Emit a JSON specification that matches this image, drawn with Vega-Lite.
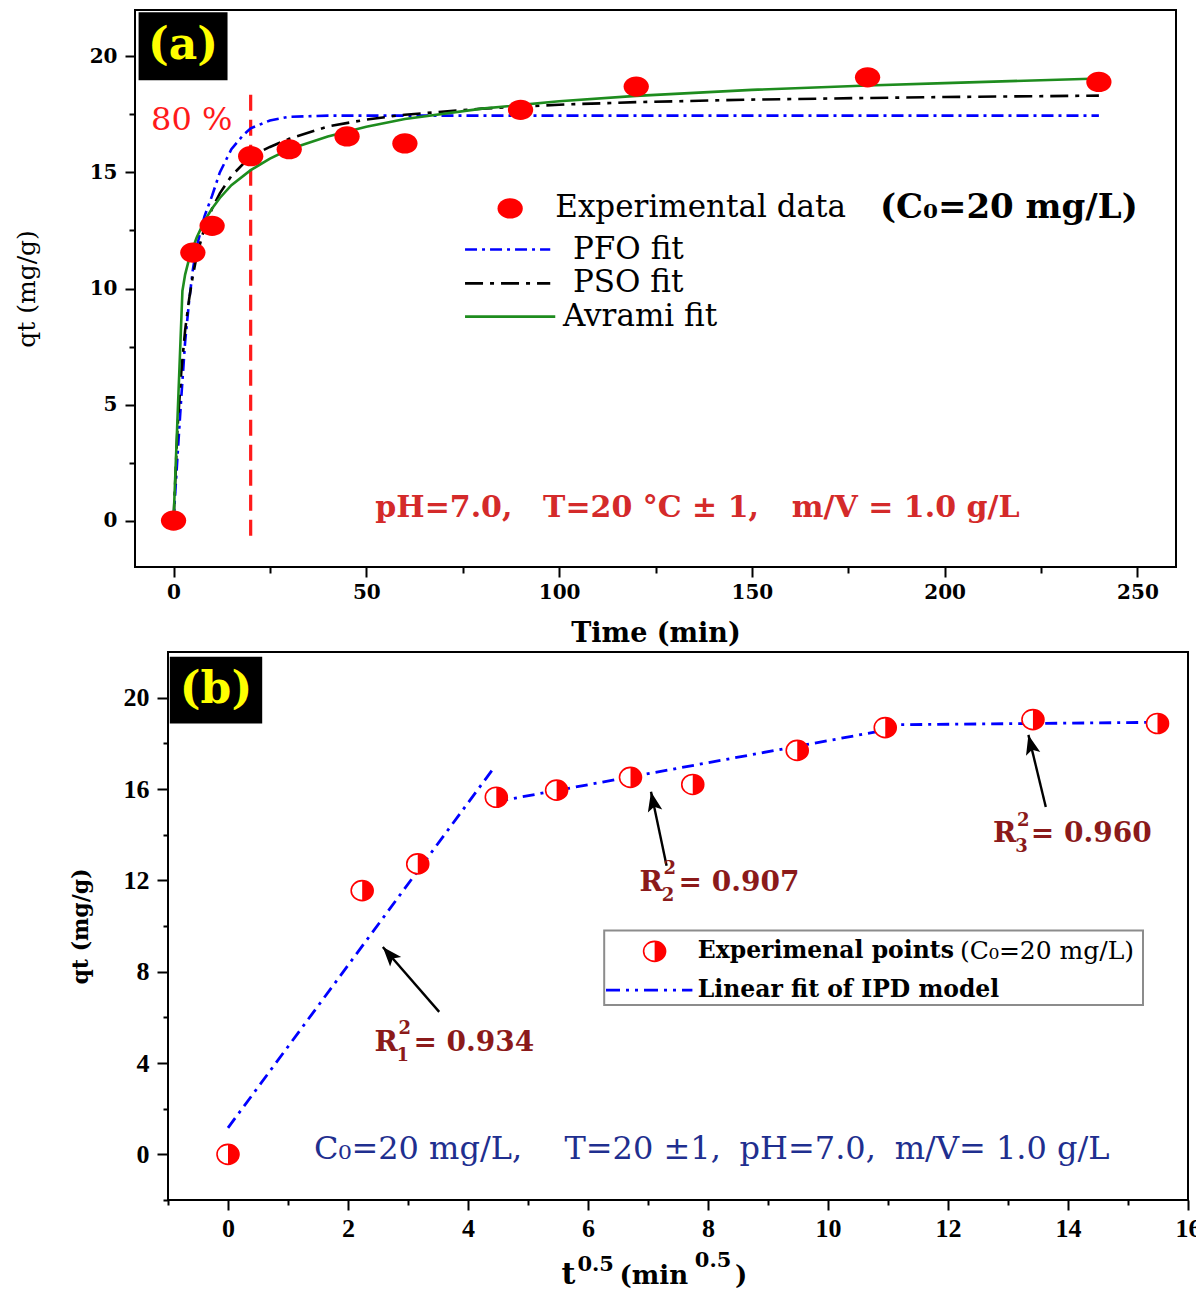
{
  "$schema": "https://vega.github.io/schema/vega-lite/v6.json",
  "autosize": {"type": "pad"},
  "padding": {"left": 14, "top": 9, "right": 0, "bottom": 0},
  "spacing": 5,
  "config": {
    "view": {"stroke": null},
    "font": "DejaVu Serif",
    "axis": {"grid": false, "domain": false, "tickColor": "black", "tickWidth": 2, "labelColor": "black", "titleColor": "black", "labelFlush": false, "labelOverlap": false}
  },
  "datasets": {
    "expA": [{"t":0,"q":0},{"t":5,"q":11.55},{"t":10,"q":12.7},{"t":20,"q":15.7},{"t":30,"q":16.0},{"t":45,"q":16.55},{"t":60,"q":16.25},{"t":90,"q":17.7},{"t":120,"q":18.7},{"t":180,"q":19.1},{"t":240,"q":18.9}],
    "fits": [
      {"model":"PFO","t":0,"q":0},{"model":"PFO","t":1,"q":2.7},{"model":"PFO","t":2,"q":5.3},{"model":"PFO","t":3,"q":7.7},{"model":"PFO","t":4,"q":9.4},{"model":"PFO","t":5,"q":10.8},{"model":"PFO","t":6,"q":11.8},{"model":"PFO","t":8,"q":13.1},{"model":"PFO","t":10,"q":14.0},{"model":"PFO","t":12,"q":15.0},{"model":"PFO","t":15,"q":16.0},{"model":"PFO","t":18,"q":16.6},{"model":"PFO","t":20,"q":16.9},{"model":"PFO","t":25,"q":17.24},{"model":"PFO","t":30,"q":17.4},{"model":"PFO","t":40,"q":17.45},{"model":"PFO","t":60,"q":17.45},{"model":"PFO","t":120,"q":17.45},{"model":"PFO","t":180,"q":17.45},{"model":"PFO","t":240,"q":17.45},
      {"model":"PSO","t":0,"q":0},{"model":"PSO","t":1,"q":3.9},{"model":"PSO","t":2,"q":6.4},{"model":"PSO","t":3,"q":8.2},{"model":"PSO","t":4,"q":9.5},{"model":"PSO","t":5,"q":10.55},{"model":"PSO","t":6,"q":11.4},{"model":"PSO","t":8,"q":12.6},{"model":"PSO","t":10,"q":13.45},{"model":"PSO","t":12,"q":14.1},{"model":"PSO","t":15,"q":14.85},{"model":"PSO","t":20,"q":15.7},{"model":"PSO","t":25,"q":16.1},{"model":"PSO","t":30,"q":16.45},{"model":"PSO","t":40,"q":16.98},{"model":"PSO","t":50,"q":17.28},{"model":"PSO","t":60,"q":17.49},{"model":"PSO","t":80,"q":17.75},{"model":"PSO","t":100,"q":17.92},{"model":"PSO","t":120,"q":18.03},{"model":"PSO","t":150,"q":18.14},{"model":"PSO","t":180,"q":18.21},{"model":"PSO","t":200,"q":18.25},{"model":"PSO","t":240,"q":18.31},
      {"model":"Avrami","t":0,"q":0},{"model":"Avrami","t":2.3,"q":9.9},{"model":"Avrami","t":3,"q":10.6},{"model":"Avrami","t":4,"q":11.25},{"model":"Avrami","t":5,"q":11.75},{"model":"Avrami","t":6,"q":12.2},{"model":"Avrami","t":8,"q":12.9},{"model":"Avrami","t":10,"q":13.45},{"model":"Avrami","t":12,"q":13.9},{"model":"Avrami","t":15,"q":14.45},{"model":"Avrami","t":20,"q":15.1},{"model":"Avrami","t":25,"q":15.6},{"model":"Avrami","t":30,"q":16.0},{"model":"Avrami","t":40,"q":16.55},{"model":"Avrami","t":50,"q":16.97},{"model":"Avrami","t":60,"q":17.3},{"model":"Avrami","t":80,"q":17.75},{"model":"Avrami","t":100,"q":18.07},{"model":"Avrami","t":120,"q":18.3},{"model":"Avrami","t":150,"q":18.56},{"model":"Avrami","t":180,"q":18.75},{"model":"Avrami","t":200,"q":18.85},{"model":"Avrami","t":240,"q":19.05}
    ],
    "legLinesA": [
      {"model":"PFO","t":75.6,"q":11.68},{"model":"PFO","t":97.7,"q":11.68},
      {"model":"PSO","t":75.6,"q":10.22},{"model":"PSO","t":97.7,"q":10.22},
      {"model":"Avrami","t":75.6,"q":8.79},{"model":"Avrami","t":99.0,"q":8.79}
    ],
    "legPtA": [{"t":87.3,"q":13.45}],
    "vline": [{"t":20,"q1":-0.65,"q2":18.6}],
    "boxA": [{"x":-9.07,"x2":14.0,"y":21.9,"y2":18.97}],
    "frameA": [{"x":-10,"x2":260,"y":-2,"y2":22}],
    "txtA": [
      {"k":"tag","x":2.47,"y":20.43,"text":"(a)"},
      {"k":"pct","x":4.7,"y":17.24,"text":"80 %"},
      {"k":"leg","x":99.0,"y":13.45,"text":"Experimental data"},
      {"k":"legb","x":183.2,"y":13.45,"text":"(C₀=20 mg/L)"},
      {"k":"leg","x":103.6,"y":11.68,"text":"PFO fit"},
      {"k":"leg","x":103.6,"y":10.22,"text":"PSO fit"},
      {"k":"leg","x":101.0,"y":8.79,"text":"Avrami fit"},
      {"k":"cond","x":52.33,"y":0.56,"text":"pH=7.0,"},
      {"k":"cond","x":95.85,"y":0.56,"text":"T=20 °C ± 1,"},
      {"k":"cond","x":160.36,"y":0.56,"text":"m/V = 1.0 g/L"}
    ],
    "expB": [{"s":0,"q":0},{"s":2.236,"q":11.55},{"s":3.162,"q":12.72},{"s":4.472,"q":15.64},{"s":5.477,"q":15.95},{"s":6.708,"q":16.51},{"s":7.746,"q":16.2},{"s":9.487,"q":17.69},{"s":10.954,"q":18.69},{"s":13.416,"q":19.04},{"s":15.492,"q":18.87}],
    "ipd": [{"seg":1,"s":0,"q":1.16},{"seg":1,"s":4.41,"q":16.85},{"seg":2,"s":4.47,"q":15.45},{"seg":2,"s":10.9,"q":18.55},{"seg":3,"s":10.92,"q":18.81},{"seg":3,"s":15.45,"q":18.92}],
    "legLineB": [{"s":6.30,"q":7.19},{"s":7.74,"q":7.19}],
    "legPtB": [{"s":7.11,"q":8.89}],
    "arrows": [{"id":1,"s":3.52,"q":6.24,"s2":2.58,"q2":9.08},{"id":2,"s":7.31,"q":12.64,"s2":7.05,"q2":15.88},{"id":3,"s":13.63,"q":15.21,"s2":13.34,"q2":18.37}],
    "boxB": [{"k":"tag","x":-0.97,"x2":0.57,"y":21.79,"y2":18.87}],
    "legBoxB": [{"x":6.27,"x2":15.25,"y":9.8,"y2":6.54}],
    "frameB": [{"x":-1,"x2":16,"y":-2,"y2":22}],
    "txtB": [
      {"k":"tag","x":-0.2,"y":20.33,"text":"(b)"},
      {"k":"r","x":2.44,"y":4.88,"text":"R"},{"k":"r","x":3.09,"y":4.88,"text":"= 0.934"},
      {"k":"rs","x":2.81,"y":4.3,"text":"1"},{"k":"rs","x":2.84,"y":5.5,"text":"2"},
      {"k":"r","x":6.86,"y":11.9,"text":"R"},{"k":"r","x":7.51,"y":11.9,"text":"= 0.907"},
      {"k":"rs","x":7.23,"y":11.33,"text":"2"},{"k":"rs","x":7.26,"y":12.5,"text":"2"},
      {"k":"r","x":12.75,"y":14.03,"text":"R"},{"k":"r","x":13.38,"y":14.03,"text":"= 0.960"},
      {"k":"rs","x":13.12,"y":13.46,"text":"3"},{"k":"rs","x":13.15,"y":14.6,"text":"2"},
      {"k":"lgb","x":7.83,"y":8.89,"text":"Experimenal points"},
      {"k":"lgr","x":12.2,"y":8.89,"text":"(C₀=20 mg/L)"},
      {"k":"lgb","x":7.83,"y":7.19,"text":"Linear fit of IPD model"},
      {"k":"cond","x":1.435,"y":0.22,"text":"C₀=20 mg/L,"},
      {"k":"cond","x":5.607,"y":0.22,"text":"T=20 ±1,"},
      {"k":"cond","x":8.527,"y":0.22,"text":"pH=7.0,"},
      {"k":"cond","x":11.113,"y":0.22,"text":"m/V= 1.0 g/L"},
      {"k":"xt","x":5.557,"y":-5.68,"text":"t"},
      {"k":"xs","x":5.823,"y":-5.12,"text":"0.5"},
      {"k":"xm","x":6.524,"y":-5.7,"text":"(min"},
      {"k":"xs","x":7.78,"y":-4.92,"text":"0.5"},
      {"k":"xm","x":8.45,"y":-5.7,"text":")"}
    ]
  },
  "vconcat": [
    {
      "width": 1041,
      "height": 557,
      "layer": [
        {
          "data": {"name": "frameA"},
          "mark": {"type": "rect", "filled": false, "stroke": "black", "strokeWidth": 2},
          "encoding": {
            "x": {"field": "x", "type": "quantitative", "scale": {"domain": [-10, 260], "nice": false, "zero": false},
              "axis": {"title": "Time (min)", "values": [0,25,50,75,100,125,150,175,200,225,250], "format": "d",
                "labelExpr": "datum.value % 50 === 0 ? datum.label : ''",
                "tickSize": {"condition": {"test": "datum.value % 50 === 0", "value": 10}, "value": 6},
                "labelFont": "DejaVu Serif", "labelFontWeight": "bold", "labelFontSize": 20, "labelPadding": 5,
                "titleFont": "DejaVu Serif", "titleFontWeight": "bold", "titleFontSize": 27, "titlePadding": 18}},
            "x2": {"field": "x2"},
            "y": {"field": "y", "type": "quantitative", "scale": {"domain": [-2, 22], "nice": false, "zero": false},
              "axis": {"title": "qt (mg/g)", "values": [0,2.5,5,7.5,10,12.5,15,17.5,20],
                "labelExpr": "datum.value % 5 === 0 ? datum.label : ''",
                "tickSize": {"condition": {"test": "datum.value % 5 === 0", "value": 10}, "value": 6},
                "labelFont": "DejaVu Serif", "labelFontWeight": "bold", "labelFontSize": 20, "labelPadding": 8,
                "titleFont": "DejaVu Serif", "titleFontWeight": "normal", "titleFontSize": 25, "titlePadding": 50}},
            "y2": {"field": "y2"}
          }
        },
        {
          "data": {"name": "boxA"},
          "mark": {"type": "rect", "color": "black"},
          "encoding": {"x": {"field": "x", "type": "quantitative"}, "x2": {"field": "x2"}, "y": {"field": "y", "type": "quantitative"}, "y2": {"field": "y2"}}
        },
        {
          "data": {"name": "vline"},
          "mark": {"type": "rule", "color": "#ff1a1a", "strokeWidth": 3.2, "strokeDash": [16, 9]},
          "encoding": {"x": {"field": "t", "type": "quantitative"}, "y": {"field": "q1", "type": "quantitative"}, "y2": {"field": "q2"}}
        },
        {
          "data": {"name": "fits"},
          "transform": [{"filter": "datum.model === 'PFO'"}],
          "mark": {"type": "line", "color": "#0000ff", "strokeWidth": 2.6, "strokeDash": [12, 5, 3, 5]},
          "encoding": {"x": {"field": "t", "type": "quantitative"}, "y": {"field": "q", "type": "quantitative"}}
        },
        {
          "data": {"name": "fits"},
          "transform": [{"filter": "datum.model === 'PSO'"}],
          "mark": {"type": "line", "color": "black", "strokeWidth": 2.6, "strokeDash": [18, 7, 4, 7]},
          "encoding": {"x": {"field": "t", "type": "quantitative"}, "y": {"field": "q", "type": "quantitative"}}
        },
        {
          "data": {"name": "fits"},
          "transform": [{"filter": "datum.model === 'Avrami'"}],
          "mark": {"type": "line", "color": "#1e8c1e", "strokeWidth": 2.6},
          "encoding": {"x": {"field": "t", "type": "quantitative"}, "y": {"field": "q", "type": "quantitative"}}
        },
        {
          "data": {"name": "legLinesA"},
          "transform": [{"filter": "datum.model === 'PFO'"}],
          "mark": {"type": "line", "color": "#0000ff", "strokeWidth": 2.6, "strokeDash": [12, 5, 3, 5]},
          "encoding": {"x": {"field": "t", "type": "quantitative"}, "y": {"field": "q", "type": "quantitative"}}
        },
        {
          "data": {"name": "legLinesA"},
          "transform": [{"filter": "datum.model === 'PSO'"}],
          "mark": {"type": "line", "color": "black", "strokeWidth": 2.6, "strokeDash": [18, 7, 4, 7]},
          "encoding": {"x": {"field": "t", "type": "quantitative"}, "y": {"field": "q", "type": "quantitative"}}
        },
        {
          "data": {"name": "legLinesA"},
          "transform": [{"filter": "datum.model === 'Avrami'"}],
          "mark": {"type": "line", "color": "#1e8c1e", "strokeWidth": 2.6},
          "encoding": {"x": {"field": "t", "type": "quantitative"}, "y": {"field": "q", "type": "quantitative"}}
        },
        {
          "data": {"name": "expA"},
          "mark": {"type": "point", "filled": true, "color": "#ff0000", "opacity": 1, "size": 484, "shape": "M1.15,0A1.15,0.92 0 1,1 -1.15,0A1.15,0.92 0 1,1 1.15,0Z"},
          "encoding": {"x": {"field": "t", "type": "quantitative"}, "y": {"field": "q", "type": "quantitative"}}
        },
        {
          "data": {"name": "legPtA"},
          "mark": {"type": "point", "filled": true, "color": "#ff0000", "opacity": 1, "size": 484, "shape": "M1.15,0A1.15,0.92 0 1,1 -1.15,0A1.15,0.92 0 1,1 1.15,0Z"},
          "encoding": {"x": {"field": "t", "type": "quantitative"}, "y": {"field": "q", "type": "quantitative"}}
        },
        {
          "data": {"name": "txtA"},
          "transform": [{"filter": "datum.k === 'tag'"}],
          "mark": {"type": "text", "align": "center", "baseline": "middle", "font": "DejaVu Serif", "fontWeight": "bold", "fontSize": 44, "color": "#ffff00"},
          "encoding": {"x": {"field": "x", "type": "quantitative"}, "y": {"field": "y", "type": "quantitative"}, "text": {"field": "text"}}
        },
        {
          "data": {"name": "txtA"},
          "transform": [{"filter": "datum.k === 'pct'"}],
          "mark": {"type": "text", "align": "center", "baseline": "middle", "font": "DejaVu Serif", "fontSize": 32, "color": "#ff1a1a"},
          "encoding": {"x": {"field": "x", "type": "quantitative"}, "y": {"field": "y", "type": "quantitative"}, "text": {"field": "text"}}
        },
        {
          "data": {"name": "txtA"},
          "transform": [{"filter": "datum.k === 'leg'"}],
          "mark": {"type": "text", "align": "left", "baseline": "middle", "font": "DejaVu Serif", "fontSize": 31, "color": "black"},
          "encoding": {"x": {"field": "x", "type": "quantitative"}, "y": {"field": "y", "type": "quantitative"}, "text": {"field": "text"}}
        },
        {
          "data": {"name": "txtA"},
          "transform": [{"filter": "datum.k === 'legb'"}],
          "mark": {"type": "text", "align": "left", "baseline": "middle", "font": "DejaVu Serif", "fontWeight": "bold", "fontSize": 34, "color": "black"},
          "encoding": {"x": {"field": "x", "type": "quantitative"}, "y": {"field": "y", "type": "quantitative"}, "text": {"field": "text"}}
        },
        {
          "data": {"name": "txtA"},
          "transform": [{"filter": "datum.k === 'cond'"}],
          "mark": {"type": "text", "align": "left", "baseline": "middle", "font": "DejaVu Serif", "fontWeight": "bold", "fontSize": 30, "color": "#d42a2a"},
          "encoding": {"x": {"field": "x", "type": "quantitative"}, "y": {"field": "y", "type": "quantitative"}, "text": {"field": "text"}}
        }
      ]
    },
    {
      "width": 1053,
      "height": 548,
      "layer": [
        {
          "data": {"name": "frameB"},
          "mark": {"type": "rect", "filled": false, "stroke": "black", "strokeWidth": 2},
          "encoding": {
            "x": {"field": "x", "type": "quantitative", "scale": {"domain": [-1, 16], "nice": false, "zero": false, "range": [33, 1053]},
              "axis": {"title": null, "values": [-1,0,1,2,3,4,5,6,7,8,9,10,11,12,13,14,15,16], "format": "d",
                "labelExpr": "datum.value >= 0 && datum.value % 2 === 0 ? datum.label : ''",
                "tickSize": {"condition": {"test": "datum.value % 2 === 0", "value": 10}, "value": 5},
                "labelFont": "Liberation Serif", "labelFontWeight": "bold", "labelFontSize": 26, "labelPadding": 5}},
            "x2": {"field": "x2"},
            "y": {"field": "y", "type": "quantitative", "scale": {"domain": [-2, 22], "nice": false, "zero": false},
              "axis": {"title": "qt (mg/g)", "offset": -33, "values": [-2,0,2,4,6,8,10,12,14,16,18,20], "format": "d",
                "labelExpr": "datum.value >= 0 && datum.value <= 20 && datum.value % 4 === 0 ? datum.label : ''",
                "tickSize": {"condition": {"test": "datum.value % 4 === 0", "value": 11}, "value": 5},
                "labelFont": "Liberation Serif", "labelFontWeight": "bold", "labelFontSize": 26, "labelPadding": 8,
                "titleFont": "DejaVu Serif", "titleFontWeight": "bold", "titleFontSize": 22, "titlePadding": 31}},
            "y2": {"field": "y2"}
          }
        },
        {
          "data": {"name": "boxB"},
          "mark": {"type": "rect", "color": "black"},
          "encoding": {"x": {"field": "x", "type": "quantitative"}, "x2": {"field": "x2"}, "y": {"field": "y", "type": "quantitative"}, "y2": {"field": "y2"}}
        },
        {
          "data": {"name": "legBoxB"},
          "mark": {"type": "rect", "fill": "white", "stroke": "#8c8c8c", "strokeWidth": 2},
          "encoding": {"x": {"field": "x", "type": "quantitative"}, "x2": {"field": "x2"}, "y": {"field": "y", "type": "quantitative"}, "y2": {"field": "y2"}}
        },
        {
          "data": {"name": "ipd"},
          "mark": {"type": "line", "color": "#0000ff", "strokeWidth": 2.8, "strokeDash": [12, 6, 3, 6]},
          "encoding": {"x": {"field": "s", "type": "quantitative"}, "y": {"field": "q", "type": "quantitative"}, "detail": {"field": "seg"}}
        },
        {
          "data": {"name": "legLineB"},
          "mark": {"type": "line", "color": "#0000ff", "strokeWidth": 2.8, "strokeDash": [14, 6, 3, 6, 3, 6]},
          "encoding": {"x": {"field": "s", "type": "quantitative"}, "y": {"field": "q", "type": "quantitative"}}
        },
        {
          "data": {"name": "arrows"},
          "mark": {"type": "rule", "color": "black", "strokeWidth": 2.4},
          "encoding": {"x": {"field": "s", "type": "quantitative"}, "y": {"field": "q", "type": "quantitative"}, "x2": {"field": "s2"}, "y2": {"field": "q2"}}
        },
        {
          "data": {"name": "arrows"},
          "transform": [{"filter": "datum.id === 1"}],
          "mark": {"type": "point", "filled": true, "color": "black", "opacity": 1, "size": 600, "angle": 319, "shape": "M0,0L-0.6,1.6L0,1.25L0.6,1.6Z"},
          "encoding": {"x": {"field": "s2", "type": "quantitative"}, "y": {"field": "q2", "type": "quantitative"}}
        },
        {
          "data": {"name": "arrows"},
          "transform": [{"filter": "datum.id === 2"}],
          "mark": {"type": "point", "filled": true, "color": "black", "opacity": 1, "size": 600, "angle": 348, "shape": "M0,0L-0.6,1.6L0,1.25L0.6,1.6Z"},
          "encoding": {"x": {"field": "s2", "type": "quantitative"}, "y": {"field": "q2", "type": "quantitative"}}
        },
        {
          "data": {"name": "arrows"},
          "transform": [{"filter": "datum.id === 3"}],
          "mark": {"type": "point", "filled": true, "color": "black", "opacity": 1, "size": 600, "angle": 346, "shape": "M0,0L-0.6,1.6L0,1.25L0.6,1.6Z"},
          "encoding": {"x": {"field": "s2", "type": "quantitative"}, "y": {"field": "q2", "type": "quantitative"}}
        },
        {
          "data": {"name": "expB"},
          "mark": {"type": "point", "filled": true, "fill": "white", "stroke": "#ff0000", "strokeWidth": 1.6, "opacity": 1, "size": 400, "shape": "M1.1,0A1.1,1 0 1,1 -1.1,0A1.1,1 0 1,1 1.1,0Z"},
          "encoding": {"x": {"field": "s", "type": "quantitative"}, "y": {"field": "q", "type": "quantitative"}}
        },
        {
          "data": {"name": "expB"},
          "mark": {"type": "point", "filled": true, "color": "#ff0000", "opacity": 1, "size": 400, "shape": "M0,-1A1.1,1 0 0,1 0,1Z"},
          "encoding": {"x": {"field": "s", "type": "quantitative"}, "y": {"field": "q", "type": "quantitative"}}
        },
        {
          "data": {"name": "legPtB"},
          "mark": {"type": "point", "filled": true, "fill": "white", "stroke": "#ff0000", "strokeWidth": 1.6, "opacity": 1, "size": 400, "shape": "M1.1,0A1.1,1 0 1,1 -1.1,0A1.1,1 0 1,1 1.1,0Z"},
          "encoding": {"x": {"field": "s", "type": "quantitative"}, "y": {"field": "q", "type": "quantitative"}}
        },
        {
          "data": {"name": "legPtB"},
          "mark": {"type": "point", "filled": true, "color": "#ff0000", "opacity": 1, "size": 400, "shape": "M0,-1A1.1,1 0 0,1 0,1Z"},
          "encoding": {"x": {"field": "s", "type": "quantitative"}, "y": {"field": "q", "type": "quantitative"}}
        },
        {
          "data": {"name": "txtB"},
          "transform": [{"filter": "datum.k === 'tag'"}],
          "mark": {"type": "text", "align": "center", "baseline": "middle", "font": "DejaVu Serif", "fontWeight": "bold", "fontSize": 44, "color": "#ffff00"},
          "encoding": {"x": {"field": "x", "type": "quantitative"}, "y": {"field": "y", "type": "quantitative"}, "text": {"field": "text"}}
        },
        {
          "data": {"name": "txtB"},
          "transform": [{"filter": "datum.k === 'r'"}],
          "mark": {"type": "text", "align": "left", "baseline": "middle", "font": "DejaVu Serif", "fontWeight": "bold", "fontSize": 28, "color": "#8b1a1a"},
          "encoding": {"x": {"field": "x", "type": "quantitative"}, "y": {"field": "y", "type": "quantitative"}, "text": {"field": "text"}}
        },
        {
          "data": {"name": "txtB"},
          "transform": [{"filter": "datum.k === 'rs'"}],
          "mark": {"type": "text", "align": "left", "baseline": "middle", "font": "DejaVu Serif", "fontWeight": "bold", "fontSize": 18, "color": "#8b1a1a"},
          "encoding": {"x": {"field": "x", "type": "quantitative"}, "y": {"field": "y", "type": "quantitative"}, "text": {"field": "text"}}
        },
        {
          "data": {"name": "txtB"},
          "transform": [{"filter": "datum.k === 'lgb'"}],
          "mark": {"type": "text", "align": "left", "baseline": "middle", "font": "DejaVu Serif", "fontWeight": "bold", "fontSize": 23.5, "color": "black"},
          "encoding": {"x": {"field": "x", "type": "quantitative"}, "y": {"field": "y", "type": "quantitative"}, "text": {"field": "text"}}
        },
        {
          "data": {"name": "txtB"},
          "transform": [{"filter": "datum.k === 'lgr'"}],
          "mark": {"type": "text", "align": "left", "baseline": "middle", "font": "DejaVu Serif", "fontSize": 25, "color": "black"},
          "encoding": {"x": {"field": "x", "type": "quantitative"}, "y": {"field": "y", "type": "quantitative"}, "text": {"field": "text"}}
        },
        {
          "data": {"name": "txtB"},
          "transform": [{"filter": "datum.k === 'cond'"}],
          "mark": {"type": "text", "align": "left", "baseline": "middle", "font": "DejaVu Serif", "fontSize": 32, "color": "#1f2f8f"},
          "encoding": {"x": {"field": "x", "type": "quantitative"}, "y": {"field": "y", "type": "quantitative"}, "text": {"field": "text"}}
        },
        {
          "data": {"name": "txtB"},
          "transform": [{"filter": "datum.k === 'xt'"}],
          "mark": {"type": "text", "align": "left", "baseline": "alphabetic", "font": "DejaVu Serif", "fontWeight": "bold", "fontSize": 30, "color": "black"},
          "encoding": {"x": {"field": "x", "type": "quantitative"}, "y": {"field": "y", "type": "quantitative"}, "text": {"field": "text"}}
        },
        {
          "data": {"name": "txtB"},
          "transform": [{"filter": "datum.k === 'xs'"}],
          "mark": {"type": "text", "align": "left", "baseline": "alphabetic", "font": "DejaVu Serif", "fontWeight": "bold", "fontSize": 21, "color": "black"},
          "encoding": {"x": {"field": "x", "type": "quantitative"}, "y": {"field": "y", "type": "quantitative"}, "text": {"field": "text"}}
        },
        {
          "data": {"name": "txtB"},
          "transform": [{"filter": "datum.k === 'xm'"}],
          "mark": {"type": "text", "align": "left", "baseline": "alphabetic", "font": "DejaVu Serif", "fontWeight": "bold", "fontSize": 26, "color": "black"},
          "encoding": {"x": {"field": "x", "type": "quantitative"}, "y": {"field": "y", "type": "quantitative"}, "text": {"field": "text"}}
        }
      ]
    }
  ]
}
